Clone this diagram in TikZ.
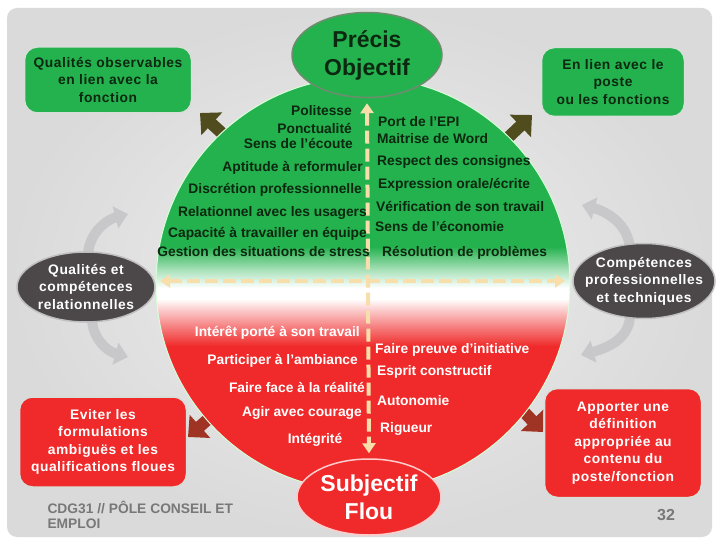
\documentclass[tikz,border=0pt]{standalone}
\usepackage{fontspec}
\setmainfont{Liberation Sans}
\newfontfamily\spacedsans[LetterSpace=4]{Liberation Sans}
\usetikzlibrary{arrows.meta}
\usetikzlibrary{shapes.geometric}

\definecolor{cgreen}{RGB}{36,178,78}
\definecolor{cred}{RGB}{240,42,42}
\definecolor{cdark}{RGB}{12,40,16}
\definecolor{cslate}{RGB}{76,71,73}
\definecolor{colive}{RGB}{80,76,30}
\definecolor{cbrown}{RGB}{160,52,36}
\definecolor{cbeige}{RGB}{248,222,170}
\definecolor{ccurve}{RGB}{200,199,202}
\definecolor{cfoot}{RGB}{120,120,120}
\definecolor{crim}{RGB}{215,222,215}

\pgfdeclareverticalshading{discshade}{100bp}{color(0bp)=(cred); color(42.5bp)=(cred); color(46bp)=(cred!40!white); color(48.2bp)=(white); color(49.5bp)=(white); color(51.5bp)=(cgreen!35!white); color(54.5bp)=(cgreen); color(100bp)=(cgreen)}

\newcommand{\labtext}{\fontsize{13.8}{17.5}\selectfont\bfseries}
\newcommand{\boxtext}{\spacedsans\fontsize{13.8}{17.5}\selectfont\bfseries}
\newcommand{\bigtext}{\fontsize{23}{28}\selectfont\bfseries}

\begin{document}
\begin{tikzpicture}[x=1pt, y=-1pt,
    greenbox/.style={rectangle, draw=crim, line width=1.5pt, fill=cgreen, rounded corners=13pt, align=center, font=\boxtext, text=cdark},
    redbox/.style={rectangle, draw=crim, line width=1.5pt, fill=cred, rounded corners=13pt, align=center, font=\boxtext, text=white},
    grayell/.style={ellipse, draw=white!75!black, line width=1.5pt, fill=cslate, inner sep=0pt},
    uptext/.style={font=\labtext, text=cdark, inner sep=0pt, text height=10pt, text depth=3pt},
    lowtext/.style={font=\labtext, text=white, inner sep=0pt, text height=10pt, text depth=3pt},
    dasharrow/.style={draw=cbeige, line width=4pt, dash pattern=on 13pt off 5pt, {Triangle[width=13pt,length=10pt]}-{Triangle[width=13pt,length=10pt]}},
    curvearrow/.style={draw=ccurve, line width=10pt, -{Triangle[width=22pt,length=13pt]}},
    blockarrow/.style={line width=12pt, -{Triangle[width=30pt,length=16pt]}}]

  \useasboundingbox (0,0) rectangle (720,540);
  \shade [inner color={rgb,255:red,238;green,238;blue,238}, outer color={rgb,255:red,218;green,218;blue,218}, rounded corners=10pt] (7,8) rectangle (712,537);

  \coordinate (lq-up) at (128,214);
  \coordinate (lq-down) at (128,357);
  \coordinate (tc-up) at (582,205);
  \coordinate (tc-down) at (581,355);
  \draw [curvearrow] (88,258) to [out=92, in=195] (lq-up);
  \draw [curvearrow] (92,318) to [out=-90, in=165] (lq-down);
  \draw [curvearrow] (630,250) to [out=92, in=-15] (tc-up);
  \draw [curvearrow] (630,315) to [out=-90, in=15] (tc-down);

  \coordinate (obs-tail) at (236,146);
  \coordinate (obs-tip) at (200,113);
  \coordinate (poste-tail) at (497,148);
  \coordinate (poste-tip) at (532,115);
  \coordinate (eviter-tail) at (224,405);
  \coordinate (eviter-tip) at (188,437);
  \coordinate (apport-tail) at (508,395);
  \coordinate (apport-tip) at (543,432);
  \draw [blockarrow, colive] (obs-tail) -- (obs-tip);
  \draw [blockarrow, colive] (poste-tail) -- (poste-tip);
  \draw [blockarrow, cbrown] (eviter-tail) -- (eviter-tip);
  \draw [blockarrow, cbrown] (apport-tail) -- (apport-tip);

  \node (disc) [circle, shading=discshade, draw=white!85!green, line width=1pt, minimum size=414pt, inner sep=0pt] at (363,284) {};

  \node (precis) [ellipse, fill=cgreen, draw={rgb,255:red,110;green,140;blue,110}, line width=1.5pt, minimum width=150pt, minimum height=85pt, inner sep=0pt] at (367,55) {};
  \node (precis-t) [align=center, font=\bigtext, text=cdark] at (precis) {Précis\\Objectif};
  \node (subj) [ellipse, fill=cred, draw=white!80!red, line width=1.5pt, minimum width=144pt, minimum height=76pt, inner sep=0pt] at (369,497) {};
  \node (subj-t) [align=center, font=\bigtext, text=white] at (subj) {Subjectif\\Flou};

  \coordinate (h-left) at (160,281);
  \coordinate (h-right) at (565,281);
  \draw [dasharrow, shorten <=5pt, shorten >=5pt] (precis.south) -- (subj.north);
  \draw [dasharrow] (h-left) -- (h-right);

  \node (qr1) [uptext, anchor=east] at (352,112) {Politesse};
  \node (qr2) [uptext, anchor=east] at (352,130) {Ponctualité};
  \node (qr3) [uptext, anchor=east] at (353,145) {Sens de l’écoute};
  \node (qr4) [uptext, anchor=east] at (363,168) {Aptitude à reformuler};
  \node (qr5) [uptext, anchor=east] at (362,190) {Discrétion professionnelle};
  \node (qr6) [uptext, anchor=east] at (367,213) {Relationnel avec les usagers};
  \node (qr7) [uptext, anchor=east] at (367,234) {Capacité à travailler en équipe};
  \node (qr8) [uptext, anchor=east] at (370,253) {Gestion des situations de stress};

  \node (ct1) [uptext, anchor=west] at (378,123) {Port de l’EPI};
  \node (ct2) [uptext, anchor=west] at (377,140) {Maitrise de Word};
  \node (ct3) [uptext, anchor=west] at (377,162) {Respect des consignes};
  \node (ct4) [uptext, anchor=west] at (378,185) {Expression orale/écrite};
  \node (ct5) [uptext, anchor=west] at (376,208) {Vérification de son travail};
  \node (ct6) [uptext, anchor=west] at (375,228) {Sens de l’économie};
  \node (ct7) [uptext, anchor=west] at (382,253) {Résolution de problèmes};

  \node (rl1) [lowtext, anchor=east] at (360,333) {Intérêt porté à son travail};
  \node (rl2) [lowtext, anchor=east] at (358,361) {Participer à l’ambiance};
  \node (rl3) [lowtext, anchor=east] at (365,389) {Faire face à la réalité};
  \node (rl4) [lowtext, anchor=east] at (362,413) {Agir avec courage};
  \node (rl5) [lowtext] at (315,440) {Intégrité};

  \node (rr1) [lowtext, anchor=west] at (375,350) {Faire preuve d’initiative};
  \node (rr2) [lowtext, anchor=west] at (377,372) {Esprit constructif};
  \node (rr3) [lowtext, anchor=west] at (377,402) {Autonomie};
  \node (rr4) [lowtext, anchor=west] at (380,429) {Rigueur};

  \node (obs) [greenbox, minimum width=167pt, minimum height=66pt] at (108,80) {Qualités observables\\en lien avec la\\fonction};
  \node (poste) [greenbox, minimum width=143pt, minimum height=69pt] at (613,82) {En lien avec le\\poste\\ou les fonctions};
  \node (eviter) [redbox, minimum width=167pt, minimum height=90pt] at (103,442) {Eviter les\\formulations\\ambiguës et les\\qualifications floues};
  \node (apport) [redbox, minimum width=157pt, minimum height=109pt] at (623,443) {Apporter une\\définition\\appropriée au\\contenu du\\poste/fonction};

  \node (relat) [grayell, minimum width=138pt, minimum height=70pt] at (86,287) {};
  \node (relat-t) [align=center, font=\boxtext, text=white] at (relat) {Qualités et\\compétences\\relationnelles};
  \node (techn) [grayell, minimum width=142pt, minimum height=75pt] at (644,281) {};
  \node (techn-t) [align=center, font=\boxtext, text=white] at (techn) {Compétences\\professionnelles\\et techniques};

  \node (cdg) [anchor=west, align=left, text=cfoot, font=\fontsize{13.8}{14.5}\selectfont\bfseries] at (44,515) {CDG31 // PÔLE CONSEIL ET\\EMPLOI};
  \node (pgno) [text=cfoot, font=\fontsize{16}{16}\selectfont\bfseries] at (666,515) {32};
\end{tikzpicture}
\end{document}
